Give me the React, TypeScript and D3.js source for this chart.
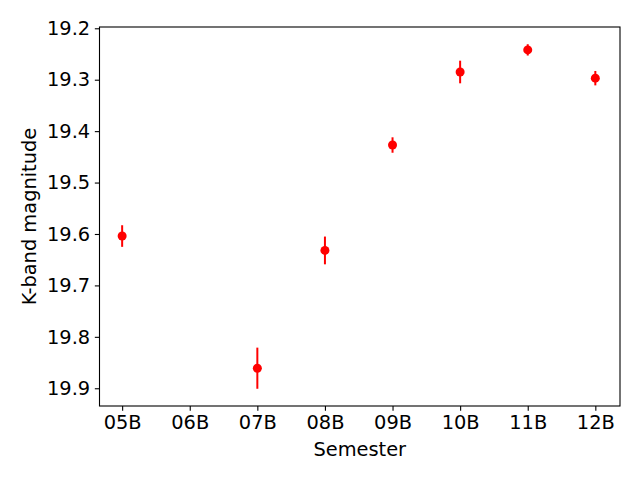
import { useEffect, useRef } from "react";
import * as d3 from "d3";

const semesters = ["05B", "06B", "07B", "08B", "09B", "10B", "11B", "12B"];
const pointSemesters = ["05B", "07B", "08B", "09B", "10B", "11B", "12B"];
const magnitudes = [19.604, 19.861, 19.632, 19.427, 19.285, 19.242, 19.297];
const errors = [0.021, 0.04, 0.027, 0.015, 0.022, 0.011, 0.014];
const yTicks = [19.2, 19.3, 19.4, 19.5, 19.6, 19.7, 19.8, 19.9];

const width = 640,
    height = 480,
    margin = { left: 99.5, top: 27, right: 20, bottom: 74 };
const font = "'DejaVu Sans', sans-serif";
const fontSize = 19.4;

export default function App() {
    let svgRef = useRef<SVGSVGElement>(null);

    useEffect(() => {
        let svg = d3.select(svgRef.current);
        svg.selectAll("*").remove();

        let x0 = margin.left,
            x1 = width - margin.right,
            y0 = margin.top,
            y1 = height - margin.bottom;

        let xScale = d3.scaleLinear().domain([-0.335, semesters.length - 1 + 0.365]).range([x0, x1]);
        let yScale = d3.scaleLinear().domain([19.1975, 19.9345]).range([y0, y1]);

        let data = pointSemesters.map((s, i) => ({
            x: semesters.indexOf(s),
            y: magnitudes[i],
            e: errors[i]
        }));

        // x axis
        let xAxis = svg.append("g")
            .attr("transform", `translate(0, ${y1})`)
            .call(d3.axisBottom(xScale)
                .tickValues(semesters.map((d, i) => i))
                .tickFormat((d: any) => semesters[d])
                .tickSize(4.67)
                .tickPadding(4.67));
        xAxis.select(".domain").remove();
        xAxis.selectAll("line").attr("stroke", "#000").attr("stroke-width", 1.1);
        xAxis.selectAll("text").attr("font-family", font).attr("font-size", fontSize).attr("fill", "#000");

        // y axis
        let yAxis = svg.append("g")
            .attr("transform", `translate(${x0}, 0)`)
            .call(d3.axisLeft(yScale)
                .tickValues(yTicks)
                .tickFormat(d3.format(".1f"))
                .tickSize(4.67)
                .tickPadding(4.67));
        yAxis.select(".domain").remove();
        yAxis.selectAll("line").attr("stroke", "#000").attr("stroke-width", 1.1);
        yAxis.selectAll("text").attr("font-family", font).attr("font-size", fontSize).attr("fill", "#000");

        // error bars
        svg.append("g")
            .selectAll("line")
            .data(data)
            .enter().append("line")
            .attr("x1", d => xScale(d.x))
            .attr("x2", d => xScale(d.x))
            .attr("y1", d => yScale(d.y - d.e))
            .attr("y2", d => yScale(d.y + d.e))
            .attr("stroke", "red")
            .attr("stroke-width", 2);

        // points
        svg.append("g")
            .selectAll("circle")
            .data(data)
            .enter().append("circle")
            .attr("cx", d => xScale(d.x))
            .attr("cy", d => yScale(d.y))
            .attr("r", 4.5)
            .attr("fill", "red");

        // frame
        svg.append("rect")
            .attr("x", x0)
            .attr("y", y0)
            .attr("width", x1 - x0)
            .attr("height", y1 - y0)
            .attr("fill", "none")
            .attr("stroke", "#000")
            .attr("stroke-width", 1.1);

        svg.append("text")
            .attr("x", (x0 + x1) / 2)
            .attr("y", 456)
            .attr("text-anchor", "middle")
            .attr("font-family", font)
            .attr("font-size", fontSize)
            .text("Semester");

        svg.append("text")
            .attr("transform", `translate(36, ${(y0 + y1) / 2}) rotate(-90)`)
            .attr("text-anchor", "middle")
            .attr("font-family", font)
            .attr("font-size", fontSize)
            .text("K-band magnitude");
    }, []);

    return (
        <svg ref={svgRef} width={width} height={height}
            style={{ position: "absolute", left: 0, top: 0, background: "#fff" }} />
    );
}
